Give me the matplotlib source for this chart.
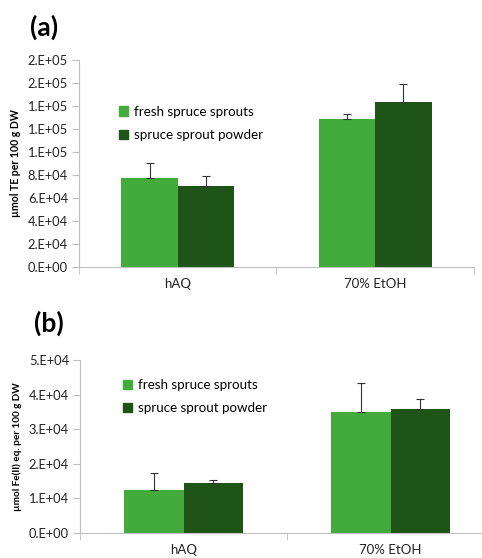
import matplotlib.pyplot as plt
import matplotlib.patches as mpatches
import numpy as np

plt.rcParams['font.family'] = ['Lato', 'DejaVu Sans']

categories = ['hAQ', '70% EtOH']
series = ['fresh spruce sprouts', 'spruce sprout powder']
colors = ['#43AB3B', '#1F5419']

# panel (a): TEAC
a_fresh = [77700, 129000]
a_fresh_err = [12400, 3800]
a_powder = [70400, 143500]
a_powder_err = [8400, 16000]
a_ticks = [0, 20000, 40000, 60000, 80000, 100000, 120000, 140000, 160000, 180000]
a_ticklabels = ['0.E+00', '2.E+04', '4.E+04', '6.E+04', '8.E+04',
                '1.E+05', '1.E+05', '1.E+05', '2.E+05', '2.E+05']

# panel (b): FRAP
b_fresh = [12400, 35100]
b_fresh_err = [4900, 8200]
b_powder = [14400, 35700]
b_powder_err = [1000, 3100]
b_ticks = [0, 10000, 20000, 30000, 40000, 50000]
b_ticklabels = ['0.E+00', '1.E+04', '2.E+04', '3.E+04', '4.E+04', '5.E+04']

fig = plt.figure(figsize=(4.82, 5.58), dpi=100)
ax_a = fig.add_axes([0.164, 0.5215, 0.819, 0.371])
ax_b = fig.add_axes([0.166, 0.0448, 0.859, 0.310])

w = 0.286


def draw(ax, fresh, fresh_err, powder, powder_err, ticks, ticklabels, ylabel, ylsize, leg_xy):
    x = np.arange(len(categories))
    for vals, errs, off, c in [(fresh, fresh_err, -w / 2, colors[0]),
                               (powder, powder_err, w / 2, colors[1])]:
        ax.bar(x + off, vals, width=w, color=c, zorder=2)
        ax.errorbar(x + off, vals, yerr=[np.zeros(len(errs)), errs], fmt='none',
                    ecolor='#333333', elinewidth=0.8, capsize=3, capthick=0.8, zorder=3)
    ax.set_xlim(-0.5, 1.5)
    ax.set_ylim(ticks[0], ticks[-1])
    ax.set_yticks(ticks)
    ax.set_yticklabels(ticklabels, fontsize=9.3, color='#222222')
    ax.set_xticks(x)
    ax.set_xticklabels(categories, fontsize=9.5, color='#222222')
    ax.set_xticks([-0.5, 0.5, 1.5], minor=True)
    ax.tick_params(axis='x', which='major', length=0, pad=8)
    ax.tick_params(axis='x', which='minor', length=5, color='#BFBFBF', direction='out')
    ax.tick_params(axis='y', length=5, color='#BFBFBF', direction='out', pad=3)
    for s in ['top', 'right']:
        ax.spines[s].set_visible(False)
    for s in ['left', 'bottom']:
        ax.spines[s].set_color('#BFBFBF')
    ax.set_ylabel(ylabel, fontsize=ylsize, fontweight='bold', labelpad=5)
    handles = [mpatches.Patch(color=c, label=s) for c, s in zip(colors, series)]
    ax.legend(handles=handles, loc='upper left', bbox_to_anchor=leg_xy, frameon=False,
              fontsize=9.6, handlelength=0.7, handleheight=0.7, handletextpad=0.4,
              labelspacing=0.85, borderpad=0, borderaxespad=0)


draw(ax_a, a_fresh, a_fresh_err, a_powder, a_powder_err, a_ticks, a_ticklabels,
     'µmol TE per 100 g DW', 7.6, (0.101, 0.78))
draw(ax_b, b_fresh, b_fresh_err, b_powder, b_powder_err, b_ticks, b_ticklabels,
     'µmol Fe(II) eq. per 100 g DW', 7.2, (0.104, 0.89))

fig.text(30 / 482, 1 - 27 / 558, '(a)', fontsize=19, fontweight='bold', va='center', ha='left')
fig.text(34 / 482, 1 - 323 / 558, '(b)', fontsize=19, fontweight='bold', va='center', ha='left')

fig.savefig('out.png', dpi=100)
